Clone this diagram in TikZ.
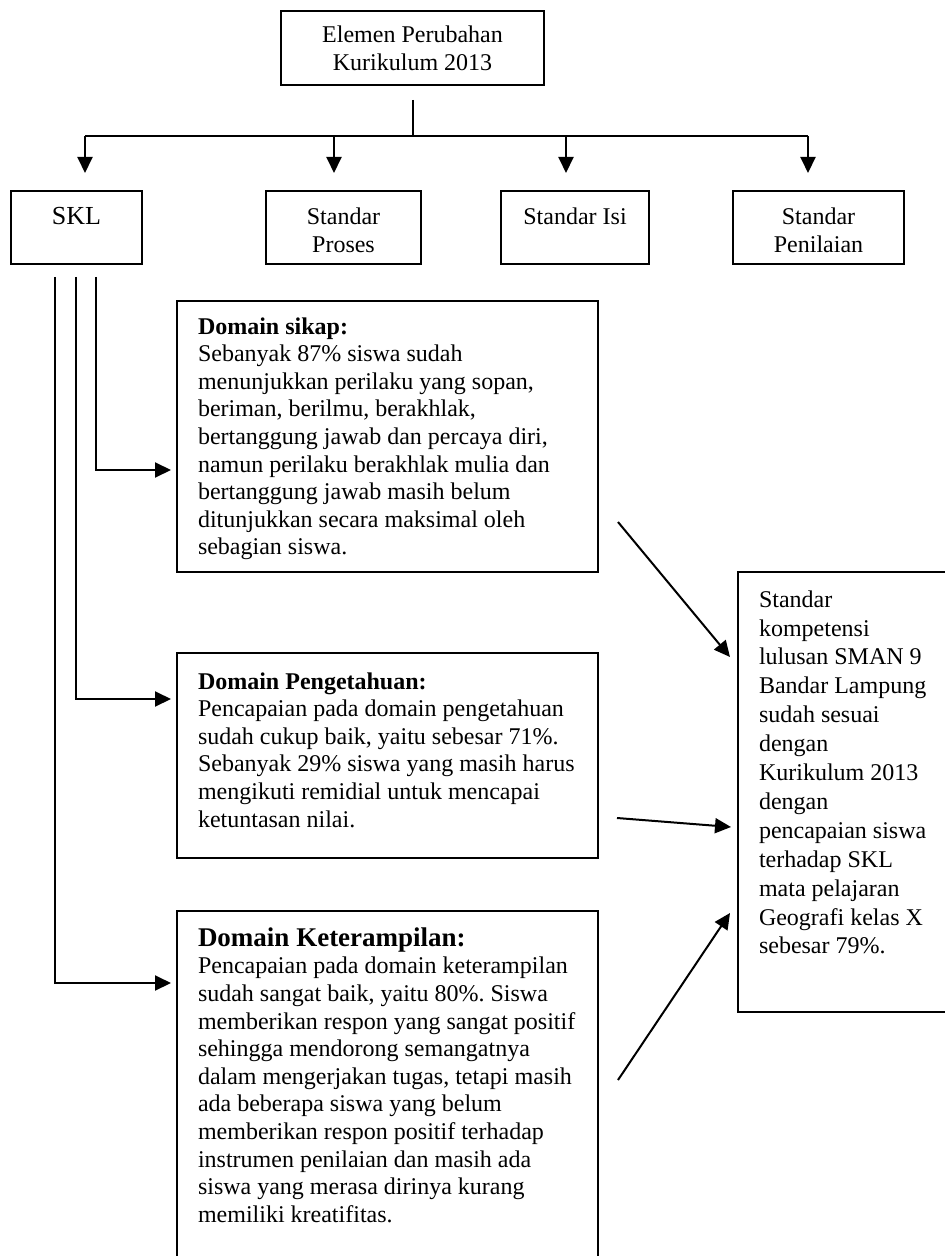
\documentclass[tikz,border=0pt]{standalone}
\usepackage{fontspec}
\setmainfont{Liberation Serif}
\usetikzlibrary{arrows.meta, positioning, calc}
\frenchspacing

\tikzset{
  elbox/.style={draw, line width=0.8pt, inner sep=0pt, outer sep=0pt, anchor=north west},
  bodytext/.style={inner sep=0pt, outer sep=0pt, align=left, anchor=north west, font=\fontsize{12}{13.8}\selectfont},
  connector/.style={line width=1pt, -{Triangle[length=8pt, width=7.5pt]}},
  link/.style={line width=1pt}
}

\begin{document}
\begin{tikzpicture}[x=0.5pt, y=-0.5pt, font=\fontsize{12}{13.8}\selectfont]
    \useasboundingbox (0,0) rectangle (944,1256);

    % Top element
    \node[elbox, align=center, minimum width=131.5pt, minimum height=37pt] (top) at (281,11) {Elemen Perubahan\\Kurikulum 2013};

    % Standards
    \node[elbox, minimum width=65.5pt, minimum height=36.5pt] (skl) at (11,191) {};
    \node[elbox, minimum width=77.5pt, minimum height=36.5pt] (proses) at (266,191) {};
    \node[elbox, minimum width=74pt, minimum height=36.5pt] (isi) at (501,191) {};
    \node[elbox, minimum width=85.5pt, minimum height=36.5pt] (penilaian) at (733,191) {};
    \node[inner sep=0pt, anchor=north, font=\fontsize{13}{15}\selectfont] (skl-t) at ($(skl.north)+(0,16)$) {SKL};
    \node[inner sep=0pt, anchor=north, align=center] (proses-t) at ($(proses.north)+(0,16.5)$) {Standar\\Proses};
    \node[inner sep=0pt, anchor=north, align=center] (isi-t) at ($(isi.north)+(0,16.5)$) {Standar Isi};
    \node[inner sep=0pt, anchor=north, align=center] (penilaian-t) at ($(penilaian.north)+(0,16.5)$) {Standar\\Penilaian};

    % Domains
    \node[elbox, minimum width=210.5pt, minimum height=135.5pt] (sikap) at (177,301) {};
    \node[elbox, minimum width=210.5pt, minimum height=102.5pt] (pengetahuan) at (177,653) {};
    \node[elbox, minimum width=210.5pt, minimum height=180pt] (keterampilan) at (177,911) {};
    \node[bodytext] (sikap-t) at ($(sikap.north west)+(21,16.5)$) {\textbf{Domain sikap:}\\
      Sebanyak 87\% siswa sudah\\
      menunjukkan perilaku yang sopan,\\
      beriman, berilmu, berakhlak,\\
      bertanggung jawab dan percaya diri,\\
      namun perilaku berakhlak mulia dan\\
      bertanggung jawab masih belum\\
      ditunjukkan secara maksimal oleh\\
      sebagian siswa.};
    \node[bodytext] (pengetahuan-t) at ($(pengetahuan.north west)+(21,19.5)$) {\textbf{Domain Pengetahuan:}\\
      Pencapaian pada domain pengetahuan\\
      sudah cukup baik, yaitu sebesar 71\%.\\
      Sebanyak 29\% siswa yang masih harus\\
      mengikuti remidial untuk mencapai\\
      ketuntasan nilai.};
    \node[bodytext] (keterampilan-t) at ($(keterampilan.north west)+(21,16.5)$) {{\fontsize{13.5}{14}\selectfont\bfseries Domain Keterampilan:}\\
      Pencapaian pada domain keterampilan\\
      sudah sangat baik, yaitu 80\%. Siswa\\
      memberikan respon yang sangat positif\\
      sehingga mendorong semangatnya\\
      dalam mengerjakan tugas, tetapi masih\\
      ada beberapa siswa yang belum\\
      memberikan respon positif terhadap\\
      instrumen penilaian dan masih ada\\
      siswa yang merasa dirinya kurang\\
      memiliki kreatifitas.};

    % Conclusion
    \node[elbox, minimum width=110pt, minimum height=220pt] (concl) at (738,572) {};
    \node[bodytext, font=\fontsize{12}{14.45}\selectfont] (concl-t) at ($(concl.north west)+(21,18.5)$) {Standar\\kompetensi\\lulusan SMAN 9\\Bandar Lampung\\sudah sesuai\\dengan\\Kurikulum 2013\\dengan\\pencapaian siswa\\terhadap SKL\\mata pelajaran\\Geografi kelas X\\sebesar 79\%.};

    % Top branches
    \coordinate (hub) at ($(top.south)+(0,51)$);
    \draw[link] ($(top.south)+(0,15)$) -- (hub);
    \foreach \n/\dx in {skl/8.5, proses/-9.5, isi/-9, penilaian/-10.5}{
        \coordinate (\n-in) at ($(\n.north)+(\dx,-18)$);
        \draw[connector] (\n-in |- hub) -- (\n-in);
    }
    \draw[link] (skl-in |- hub) -- (penilaian-in |- hub);

    % SKL to domains
    \draw[connector] ($(skl.south west)+(85,13)$) |- ($(sikap.north west)+(-6,169)$);
    \draw[connector] ($(skl.south west)+(65,13)$) |- ($(pengetahuan.north west)+(-6,46)$);
    \draw[connector] ($(skl.south west)+(44,13)$) |- ($(keterampilan.north west)+(-6,72)$);

    % Domains to conclusion
    \coordinate (d1) at (618,522);
    \coordinate (d2) at (617,818);
    \coordinate (d3) at (618,1080);
    \draw[connector] (d1) -- ($(concl.north west)+(-8,85)$);
    \draw[connector] (d2) -- ($(concl.north west)+(-7,255)$);
    \draw[connector] (d3) -- ($(concl.north west)+(-8,341)$);
\end{tikzpicture}
\end{document}
